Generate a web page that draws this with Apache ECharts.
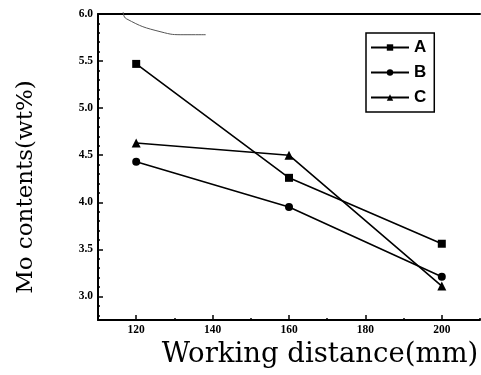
<!DOCTYPE html>
<html>
<head>
<meta charset="utf-8">
<script src="https://cdn.jsdelivr.net/npm/echarts@6/dist/echarts.min.js"></script>
<style>
  html, body { margin: 0; padding: 0; background: #fff; }
  #chart { width: 481px; height: 375px; }
</style>
</head>
<body>
<div id="chart"></div>
<script>
// 工作距离 (mm)
var distance = [120, 160, 200];
// Mo 含量 (wt%)
var seriesA = [5.47, 4.26, 3.56];
var seriesB = [4.43, 3.95, 3.21];
var seriesC = [4.63, 4.50, 3.11];
var seriesNames = ['A', 'B', 'C'];

// 刻度
var xMajorTicks = [120, 140, 160, 180, 200];
var xMinorTicks = [110, 130, 150, 170, 190, 210];
var yMajorTicks = [3.0, 3.5, 4.0, 4.5, 5.0, 5.5, 6.0];
var yMinorTicks = [2.8, 2.9, 3.1, 3.2, 3.3, 3.4, 3.6, 3.7, 3.8, 3.9, 4.1, 4.2, 4.3, 4.4,
                   4.6, 4.7, 4.8, 4.9, 5.1, 5.2, 5.3, 5.4, 5.6, 5.7, 5.8, 5.9];

// 扫描图上残留的细线
var strayX = [116.6, 117.4, 126.5, 132.5, 138.2];
var strayY = [6.02, 5.95, 5.81, 5.78, 5.78];

function pairs(xs, ys) {
  var out = [];
  for (var i = 0; i < xs.length; i++) out.push([xs[i], ys[i]]);
  return out;
}

var chart = echarts.init(document.getElementById('chart'));
var labelFont = { fontFamily: 'Liberation Serif', fontWeight: 'bold', fontSize: 11.5, color: '#000' };

var option = {
  animation: false,
  grid: { left: 98, top: 14, right: 1, bottom: 55, containLabel: false, outerBoundsMode: 'none' },
  legend: {
    orient: 'vertical',
    left: 366, top: 33,
    width: 64,
    padding: [6, 8, 6, 4],
    itemGap: 8,
    itemWidth: 38, itemHeight: 8,
    borderColor: '#000', borderWidth: 1.5,
    data: seriesNames,
    textStyle: { fontFamily: 'Liberation Sans', fontWeight: 'bold', fontSize: 17, color: '#000', padding: [0, 0, 0, 0] }
  },
  xAxis: [
    {
      type: 'value', position: 'bottom', min: 110, max: 210,
      axisLine: { onZero: false, lineStyle: { color: '#000', width: 2 } },
      axisTick: { inside: true, length: 2, customValues: xMinorTicks, lineStyle: { color: '#000', width: 1.5 } },
      axisLabel: { customValues: xMajorTicks, margin: 4, ...labelFont },
      splitLine: { show: false },
      name: 'Working distance(mm)', nameLocation: 'middle', nameGap: 13,
      nameTextStyle: { fontFamily: 'DejaVu Serif', fontSize: 27.5, color: '#000', padding: [0, 0, 0, 62] }
    },
    {
      type: 'value', position: 'bottom', min: 110, max: 210, gridIndex: 0,
      axisLine: { show: false, onZero: false },
      axisTick: { inside: true, length: 5, customValues: xMajorTicks, lineStyle: { color: '#000', width: 1.5 } },
      axisLabel: { show: false },
      splitLine: { show: false }
    },
    {
      type: 'value', position: 'top', min: 110, max: 210,
      axisLine: { onZero: false, lineStyle: { color: '#000', width: 2 } },
      axisTick: { show: false }, axisLabel: { show: false }, splitLine: { show: false }
    }
  ],
  yAxis: [
    {
      type: 'value', position: 'left', min: 2.75, max: 6.0,
      axisLine: { onZero: false, lineStyle: { color: '#000', width: 2 } },
      axisTick: { inside: true, length: 2, customValues: yMinorTicks, lineStyle: { color: '#000', width: 1.5 } },
      axisLabel: { customValues: yMajorTicks, margin: 5, formatter: function (v) { return v.toFixed(1); }, ...labelFont },
      splitLine: { show: false },
      name: 'Mo contents(wt%)', nameLocation: 'middle', nameGap: 60, nameRotate: 90,
      nameTextStyle: { fontFamily: 'DejaVu Serif', fontSize: 23, color: '#000', padding: [0, 40, 0, 0] }
    },
    {
      type: 'value', position: 'left', min: 2.75, max: 6.0,
      axisLine: { show: false, onZero: false },
      axisTick: { inside: true, length: 5, customValues: yMajorTicks, lineStyle: { color: '#000', width: 1.5 } },
      axisLabel: { show: false },
      splitLine: { show: false }
    }
  ],
  series: [
    {
      name: 'A', type: 'line', data: pairs(distance, seriesA),
      symbol: 'rect', symbolSize: 8,
      lineStyle: { color: '#000', width: 1.6 }, itemStyle: { color: '#000' }
    },
    {
      name: 'B', type: 'line', data: pairs(distance, seriesB),
      symbol: 'circle', symbolSize: 8,
      lineStyle: { color: '#000', width: 1.6 }, itemStyle: { color: '#000' }
    },
    {
      name: 'C', type: 'line', data: pairs(distance, seriesC),
      symbol: 'triangle', symbolSize: 9,
      lineStyle: { color: '#000', width: 1.6 }, itemStyle: { color: '#000' }
    },
    {
      name: 'stray', type: 'line', data: pairs(strayX, strayY),
      symbol: 'none', smooth: true, clip: false,
      lineStyle: { color: '#555', width: 1 }, silent: true
    }
  ]
};
chart.setOption(option);
</script>
</body>
</html>
